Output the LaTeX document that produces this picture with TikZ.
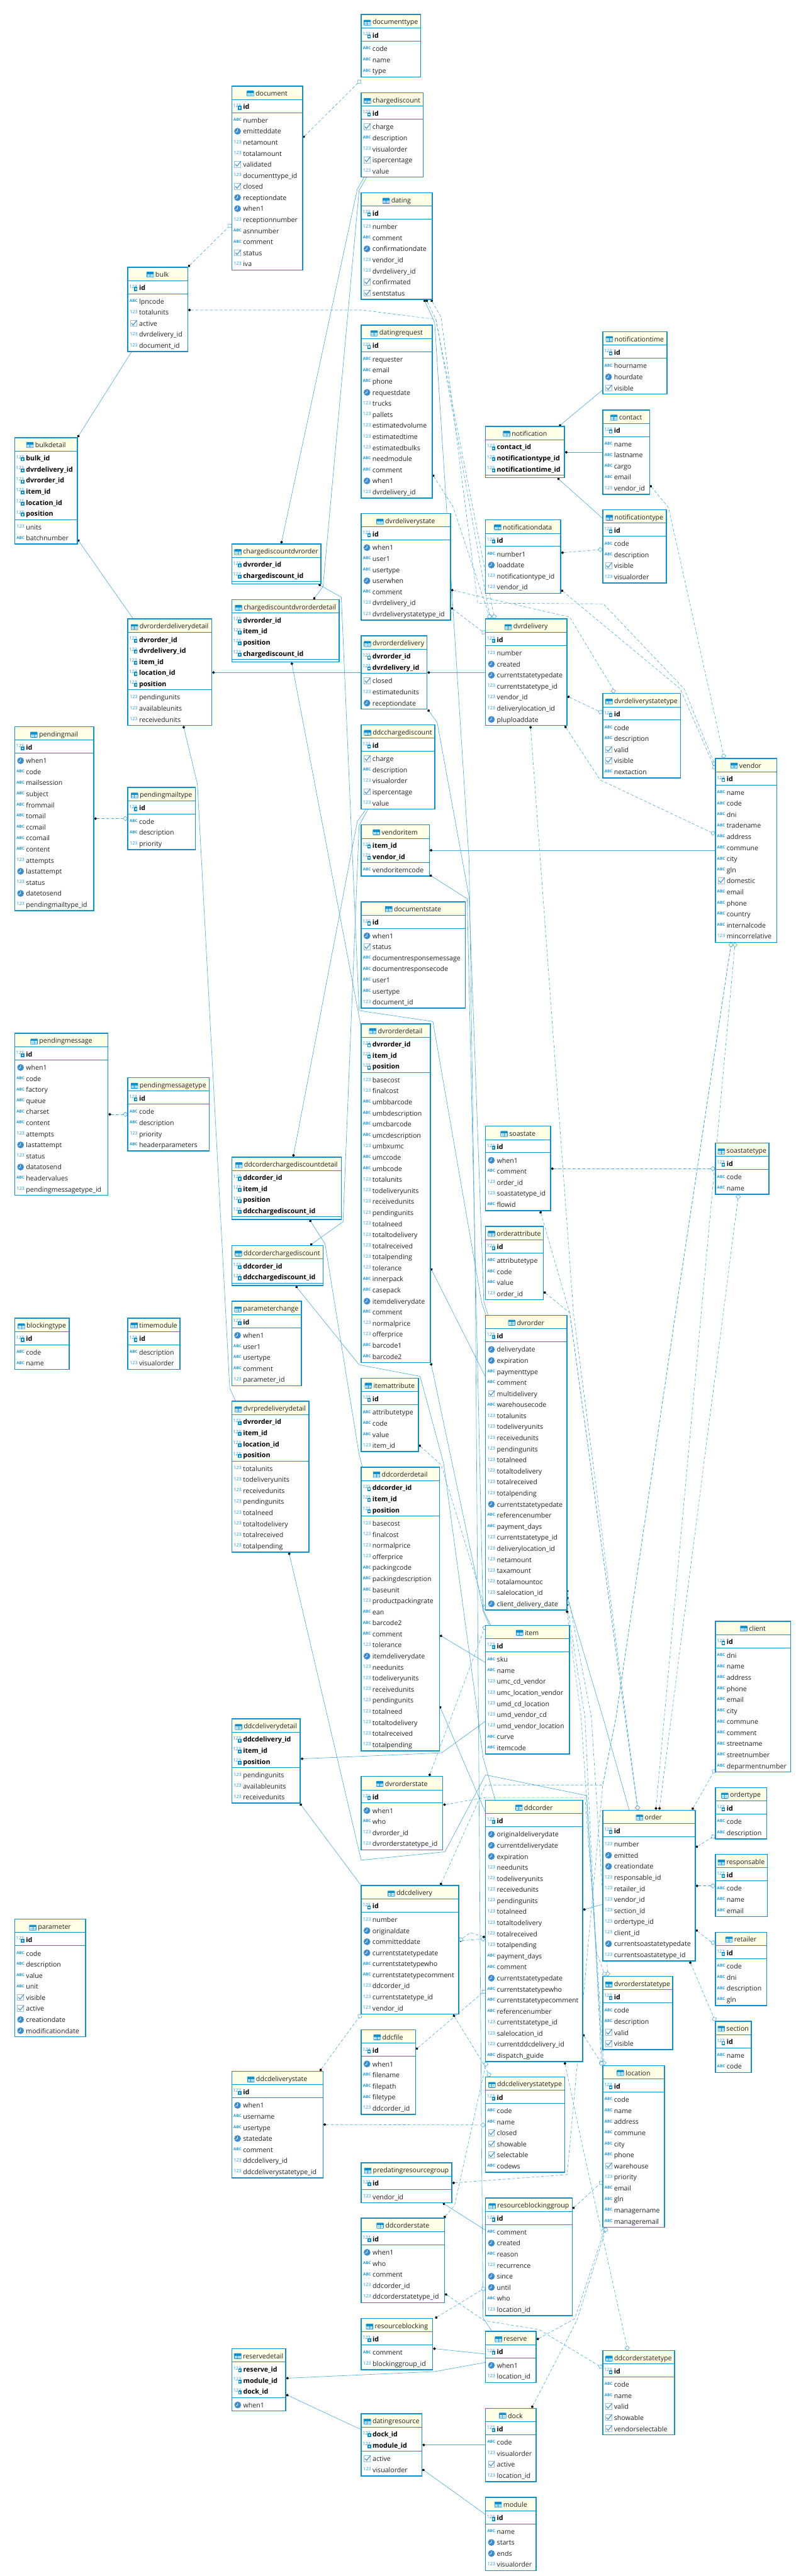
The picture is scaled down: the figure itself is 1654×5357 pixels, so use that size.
\documentclass[tikz,border=0pt]{standalone}
\usepackage{fontspec}
\usepackage{graphicx,tikz}
\usetikzlibrary{arrows.meta,backgrounds}
\setmainfont{Open Sans}
\catcode`\_=12
\definecolor{tblblue}{HTML}{0C90D0}
\definecolor{linkblue}{HTML}{45ABE0}
\definecolor{headfill}{HTML}{FFFFE6}
\definecolor{clockblue}{HTML}{3A8CD0}
\definecolor{numblue}{HTML}{1C9AE0}
\definecolor{textdark}{HTML}{202020}
\tikzset{
	tblbox/.style={draw=tblblue,fill=white,line width=2pt,inner sep=0pt,outer sep=0pt},
	thinrule/.style={draw=tblblue,line width=.8pt},
	tbltitle/.style={anchor=base,inner sep=0pt,font=\fontsize{13.9}{16}\selectfont,text=textdark},
	colname/.style={anchor=base west,inner sep=0pt,font=\fontsize{13.9}{16}\selectfont,text=textdark},
	pkname/.style={colname,font=\fontsize{13.9}{16}\selectfont\bfseries,text=black},
	numicon/.style={inner sep=0pt,text=numblue,font=\fontsize{9.5}{10}\selectfont},
	abcicon/.style={inner sep=0pt,text=numblue,font=\fontsize{8.2}{10}\selectfont\bfseries},
	linkline/.style={draw=linkblue,line width=.8pt},
	idlink/.style={linkline,arrows={Circle[color=black,fill=black,length=5.5pt,width=5.5pt]}-,shorten <=1pt},
	fklink/.style={linkline,dash pattern=on 6pt off 4pt,arrows={Circle[color=black,fill=black,length=5.5pt,width=5.5pt]}-{Diamond[length=10.5pt,width=10.5pt,fill=white]},shorten <=1pt},
	tblglyph/.pic={
		\draw[tblblue,line width=1pt,fill=white,rounded corners=1pt] (-7,-5.5) rectangle (7,5.5);
		\fill[tblblue] (-7,-5.5) rectangle (7,-1);
		\draw[tblblue,line width=1pt] (0,-5) -- (0,5);
		\fill[tblblue!35] (-6,-.5) rectangle (-.7,4.6) (.7,-.5) rectangle (6,4.6);
	}
}
\newcommand{\ica}[3]{\node[abcicon] (#1-i) at ({#2+12},{#3-6.5}) {ABC};}
\newcommand{\icn}[3]{\node[numicon] (#1-i) at ({#2+12},{#3-6.5}) {123};}
\newcommand{\icd}[3]{%
	\fill[clockblue] ({#2+12},{#3-5.5}) circle (7);
	\draw[white,line width=1pt] ({#2+12},{#3-10}) -- ({#2+12},{#3-5.5}) -- ({#2+8},{#3-3.5});
}
\newcommand{\icb}[3]{%
	\draw[clockblue!55,line width=1pt] ({#2+5.5},{#3-12}) rectangle ({#2+18.5},{#3+.5});
	\draw[clockblue,line width=1.4pt] ({#2+7.5},{#3-6}) -- ({#2+11},{#3-2}) -- ({#2+19},{#3-12});
}
% name, left, top, width, key columns, other columns
\newcommand{\ertable}[6]{%
	\def\tblcols{#6}%
	\def\npk{0}\def\ncol{0}%
	\foreach \nm [count=\rw] in {#5} {\xdef\npk{\rw}}%
	\ifx\tblcols\empty\else\foreach \ty/\nm [count=\rw] in {#6} {\xdef\ncol{\rw}}\fi
	\pgfmathsetmacro\hh{37.5+23*(\npk+\ncol)}%
	\node[tblbox,anchor=north west,minimum width=#4pt,minimum height=\hh pt] (#1) at (#2,#3) {};
	\fill[headfill] ({#2+1},{#3+1}) rectangle ({#2+#4-1},{#3+27.6});
	\draw[thinrule] (#2,{#3+27.6}) -- ({#2+#4},{#3+27.6});
	\draw[thinrule] (#2,{#3+32+23*\npk}) -- ({#2+#4},{#3+32+23*\npk});
	\node[tbltitle] (#1-t) at ({#2+#4/2+9},{#3+20.5}) {#1};
	\path (#1-t.west) ++(-10.6,0) pic {tblglyph};
	\foreach \nm [count=\rw] in {#5} {
		\pgfmathsetmacro\by{#3+48.2+23*(\rw-1)}
		\node[pkname] (#1-p\rw) at ({#2+23.3},\by) {\nm};
		\node[numicon] (#1-p\rw-i) at ({#2+11},{\by-8}) {123};
		\fill[tblblue] ({#2+13},{\by-7}) rectangle ({#2+20},{\by+1});
		\fill[white] ({#2+15},{\by-4.5}) rectangle ({#2+18},{\by-1.5});
	}
	\ifx\tblcols\empty\else
	\foreach \ty/\nm [count=\rw] in {#6} {
		\pgfmathsetmacro\by{#3+53.3+23*\npk+23*(\rw-1)}
		\node[colname] (#1-c\rw) at ({#2+23.3},\by) {\nm};
		\csname ic\ty\endcsname{#1-c\rw}{#2}{\by}
	}
	\fi
}
\begin{document}
\begin{tikzpicture}[x=1pt,y=-1pt]
	\useasboundingbox (0,0) rectangle (1654,5357);
	\ertable{documenttype}{750.7}{30.4}{123.6}{id}{a/code,a/name,a/type}
	\ertable{chargediscount}{750.7}{192.9}{128.9}{id}{b/charge,a/description,n/visualorder,b/ispercentage,n/value}
	\ertable{dating}{750.7}{400.7}{147.9}{id}{n/number,a/comment,d/confirmationdate,n/vendor_id,n/dvrdelivery_id,b/confirmated,b/sentstatus}
	\ertable{datingrequest}{750.7}{676.2}{147.9}{id}{a/requester,a/email,a/phone,d/requestdate,n/trucks,n/pallets,n/estimatedvolume,n/estimatedtime,n/estimatedbulks,a/needmodule,a/comment,d/when1,n/dvrdelivery_id}
	\ertable{document}{481.7}{179.1}{147.2}{id}{a/number,d/emitteddate,n/netamount,n/totalamount,b/validated,n/documenttype_id,b/closed,d/receptiondate,d/when1,n/receptionnumber,a/asnnumber,a/comment,b/status,n/iva}
	\ertable{bulk}{265.7}{555.7}{124.5}{id}{a/lpncode,n/totalunits,b/active,n/dvrdelivery_id,n/document_id}
	\ertable{bulkdetail}{30.7}{910.1}{130.2}{bulk_id,dvrdelivery_id,dvrorder_id,item_id,location_id,position}{n/units,a/batchnumber}
	\ertable{chargediscountdvrorder}{481.7}{1131.1}{185.3}{dvrorder_id,chargediscount_id}{}
	\ertable{chargediscountdvrorderdetail}{481.7}{1247}{223.4}{dvrorder_id,item_id,position,chargediscount_id}{}
	\ertable{dvrorderdeliverydetail}{265.7}{1287.2}{174.2}{dvrorder_id,dvrdelivery_id,item_id,location_id,position}{n/pendingunits,n/availableunits,n/receivedunits}
	\ertable{pendingmail}{30.7}{1511.1}{164.1}{id}{d/when1,a/code,a/mailsession,a/subject,a/frommail,a/tomail,a/ccmail,a/ccomail,a/content,n/attempts,d/lastattempt,n/status,d/datetosend,n/pendingmailtype_id}
	\ertable{pendingmailtype}{265.7}{1637.4}{140.3}{id}{a/code,a/description,n/priority}
	\ertable{dvrdeliverystate}{750.7}{1068}{185.5}{id}{d/when1,a/user1,a/usertype,d/userwhen,a/comment,n/dvrdelivery_id,n/dvrdeliverystatetype_id}
	\ertable{dvrorderdelivery}{750.7}{1322.3}{136.8}{dvrorder_id,dvrdelivery_id}{b/closed,n/estimatedunits,d/receptiondate}
	\ertable{ddcchargediscount}{750.7}{1507.1}{153.2}{id}{b/charge,a/description,n/visualorder,b/ispercentage,n/value}
	\ertable{vendoritem}{750.7}{1715.5}{141.6}{item_id,vendor_id}{a/vendoritemcode}
	\ertable{documentstate}{750.7}{1875.3}{216.3}{id}{d/when1,b/status,a/documentresponsemessage,a/documentresponsecode,a/user1,a/usertype,n/document_id}
	\ertable{dvrorderdetail}{750.7}{2129}{144.2}{dvrorder_id,item_id,position}{n/basecost,n/finalcost,a/umbbarcode,a/umbdescription,a/umcbarcode,a/umcdescription,n/umbxumc,a/umccode,a/umbcode,n/totalunits,n/todeliveryunits,n/receivedunits,n/pendingunits,n/totalneed,n/totaltodelivery,n/totalreceived,n/totalpending,n/tolerance,a/innerpack,a/casepack,d/itemdeliverydate,a/comment,n/normalprice,n/offerprice,a/barcode1,a/barcode2}
	\ertable{pendingmessage}{30.7}{2149.1}{193.8}{id}{d/when1,a/code,a/factory,a/queue,a/charset,a/content,n/attempts,d/lastattempt,n/status,d/datatosend,a/headervalues,n/pendingmessagetype_id}
	\ertable{pendingmessagetype}{265.7}{2241}{169.4}{id}{a/code,a/description,n/priority,a/headerparameters}
	\ertable{ddcorderchargediscountdetail}{481.7}{2406.3}{227.7}{ddcorder_id,item_id,position,ddcchargediscount_id}{}
	\ertable{ddcorderchargediscount}{481.7}{2590}{190.1}{ddcorder_id,ddcchargediscount_id}{}
	\ertable{parameterchange}{481.7}{2706.2}{144.5}{id}{d/when1,a/user1,a/usertype,a/comment,n/parameter_id}
	\ertable{blockingtype}{30.7}{2741.2}{113.3}{id}{a/code,a/name}
	\ertable{timemodule}{265.7}{2741.2}{108.6}{id}{a/description,n/visualorder}
	\ertable{dvrpredeliverydetail}{481.7}{2914}{160.4}{dvrorder_id,item_id,location_id,position}{n/totalunits,n/todeliveryunits,n/receivedunits,n/pendingunits,n/totalneed,n/totaltodelivery,n/totalreceived,n/totalpending}
	\ertable{itemattribute}{750.7}{2866.3}{118.8}{id}{a/attributetype,a/code,a/value,n/item_id}
	\ertable{ddcorderdetail}{750.7}{3051.2}{162.8}{ddcorder_id,item_id,position}{n/basecost,n/finalcost,n/normalprice,n/offerprice,a/packingcode,a/packingdescription,a/baseunit,n/productpackingrate,a/ean,a/barcode2,a/comment,n/tolerance,d/itemdeliverydate,n/needunits,n/todeliveryunits,n/receivedunits,n/pendingunits,n/totalneed,n/totaltodelivery,n/totalreceived,n/totalpending}
	\ertable{ddcdeliverydetail}{481.7}{3574.4}{142.4}{ddcdelivery_id,item_id,position}{n/pendingunits,n/availableunits,n/receivedunits}
	\ertable{parameter}{30.7}{3991.1}{147.2}{id}{a/code,a/description,a/value,a/unit,b/visible,b/active,d/creationdate,d/modificationdate}
	\ertable{dvrorderstate}{750.7}{3694.3}{169.6}{id}{d/when1,a/who,n/dvrorder_id,n/dvrorderstatetype_id}
	\ertable{ddcdelivery}{750.7}{3921.1}{203}{id}{n/number,d/originaldate,d/committeddate,d/currentstatetypedate,a/currentstatetypewho,a/currentstatetypecomment,n/ddcorder_id,n/currentstatetype_id,n/vendor_id}
	\ertable{ddcfile}{750.7}{4221.3}{113}{id}{d/when1,a/filename,a/filepath,a/filetype,n/ddcorder_id}
	\ertable{ddcdeliverystate}{481.7}{4307.4}{189.6}{id}{d/when1,a/username,a/usertype,d/statedate,a/comment,n/ddcdelivery_id,n/ddcdeliverystatetype_id}
	\ertable{notificationtime}{1252.8}{690}{133.4}{id}{a/hourname,d/hourdate,b/visible}
	\ertable{contact}{1252.8}{852.5}{97.4}{id}{a/name,a/lastname,a/cargo,a/email,n/vendor_id}
	\ertable{notification}{1009.3}{886.9}{164.1}{contact_id,notificationtype_id,notificationtime_id}{}
	\ertable{notificationtype}{1252.8}{1059.9}{132.3}{id}{a/code,a/description,b/visible,n/visualorder}
	\ertable{notificationdata}{1009.3}{1081.2}{156.1}{id}{a/number1,d/loaddate,n/notificationtype_id,n/vendor_id}
	\ertable{dvrdelivery}{1009.3}{1287.2}{168.9}{id}{n/number,d/created,d/currentstatetypedate,n/currentstatetype_id,n/vendor_id,n/deliverylocation_id,d/pluploaddate}
	\ertable{dvrdeliverystatetype}{1252.8}{1442.2}{161.5}{id}{a/code,a/description,b/valid,b/visible,a/nextaction}
	\ertable{vendor}{1486.8}{1577.1}{127.6}{id}{a/name,a/code,a/dni,a/tradename,a/address,a/commune,a/city,a/gln,b/domestic,a/email,a/phone,a/country,a/internalcode,n/mincorrelative}
	\ertable{soastate}{1009.3}{2342}{135}{id}{d/when1,a/comment,n/order_id,n/soastatetype_id,a/flowid}
	\ertable{soastatetype}{1486.8}{2377}{111.7}{id}{a/code,a/name}
	\ertable{orderattribute}{1009.3}{2550.4}{120.1}{id}{a/attributetype,a/code,a/value,n/order_id}
	\ertable{dvrorder}{1009.3}{2735.4}{168.9}{id}{d/deliverydate,d/expiration,a/paymenttype,a/comment,b/multidelivery,a/warehousecode,n/totalunits,n/todeliveryunits,n/receivedunits,n/pendingunits,n/totalneed,n/totaltodelivery,n/totalreceived,n/totalpending,d/currentstatetypedate,a/referencenumber,a/payment_days,n/currentstatetype_id,n/deliverylocation_id,n/netamount,n/taxamount,n/totalamountoc,n/salelocation_id,d/client_delivery_date}
	\ertable{item}{1009.3}{3380.1}{174.1}{id}{a/sku,a/name,n/umc_cd_vendor,n/umc_location_vendor,n/umd_cd_location,n/umd_vendor_cd,n/umd_vendor_location,a/curve,a/itemcode}
	\ertable{client}{1486.8}{3371.5}{156.7}{id}{a/dni,a/name,a/address,a/phone,a/email,a/city,a/commune,a/comment,a/streetname,a/streetnumber,a/deparmentnumber}
	\ertable{ddcorder}{1009.3}{3743.7}{201.7}{id}{d/originaldeliverydate,d/currentdeliverydate,d/expiration,n/needunits,n/todeliveryunits,n/receivedunits,n/pendingunits,n/totalneed,n/totaltodelivery,n/totalreceived,n/totalpending,a/payment_days,a/comment,d/currentstatetypedate,a/currentstatetypewho,a/currentstatetypecomment,a/referencenumber,n/currentstatetype_id,n/salelocation_id,n/currentddcdelivery_id,a/dispatch_guide}
	\ertable{order}{1252.8}{3764.4}{192.2}{id}{n/number,d/emitted,d/creationdate,n/responsable_id,n/retailer_id,n/vendor_id,n/section_id,n/ordertype_id,n/client_id,d/currentsoastatetypedate,n/currentsoastatetype_id}
	\ertable{ordertype}{1486.8}{3717.3}{106.9}{id}{a/code,a/description}
	\ertable{responsable}{1486.8}{3856.2}{108}{id}{a/code,a/name,a/email}
	\ertable{retailer}{1486.8}{4018.1}{106.9}{id}{a/code,a/dni,a/description,a/gln}
	\ertable{section}{1486.8}{4203.5}{74.6}{id}{a/name,a/code}
	\ertable{dvrorderstatetype}{1252.8}{4109.9}{145.6}{id}{a/code,a/description,b/valid,b/visible}
	\ertable{location}{1252.8}{4295.4}{128.6}{id}{a/code,a/name,a/address,a/commune,a/city,a/phone,b/warehouse,n/priority,a/email,a/gln,a/managername,a/manageremail}
	\ertable{ddcdeliverystatetype}{1009.3}{4318.9}{164.6}{id}{a/code,a/name,b/closed,b/showable,b/selectable,a/codews}
	\ertable{predatingresourcegroup}{751}{4497.4}{188}{id}{n/vendor_id}
	\ertable{ddcorderstate}{751}{4613.1}{173.1}{id}{d/when1,a/who,a/comment,n/ddcorder_id,n/ddcorderstatetype_id}
	\ertable{resourceblocking}{751}{4821.4}{148.3}{id}{a/comment,n/blockinggroup_id}
	\ertable{reservedetail}{482.1}{4884.4}{111.7}{reserve_id,module_id,dock_id}{d/when1}
	\ertable{datingresource}{751}{5019.2}{126}{dock_id,module_id}{b/active,n/visualorder}
	\ertable{resourceblockinggroup}{1009.3}{4570.9}{180}{id}{a/comment,d/created,a/reason,n/recurrence,d/since,d/until,a/who,n/location_id}
	\ertable{reserve}{1009.3}{4848}{105.3}{id}{d/when1,n/location_id}
	\ertable{dock}{1009.3}{5008.2}{105.3}{id}{a/code,n/visualorder,b/active,n/location_id}
	\ertable{module}{1009.3}{5193.3}{105.3}{id}{a/name,d/starts,d/ends,n/visualorder}
	\ertable{ddcorderstatetype}{1252.8}{4887.9}{149.3}{id}{a/code,a/name,b/valid,b/showable,b/vendorselectable}
	\begin{scope}[on background layer]
	\fill[white] (0,0) rectangle (1654,5357);
	% identifying relations
	\draw[idlink] (bulkdetail.north east) -- (273.7,0 |- bulk.south);
	\draw[idlink] (bulkdetail.east |- 0,1121) -- (277,0 |- dvrorderdeliverydetail.north);
	\draw[idlink] (dvrorderdeliverydetail.east |- 0,1398.6) -- (dvrorderdelivery.west |- 0,1398.6);
	\draw[idlink] (381,0 |- dvrorderdeliverydetail.south) -- (410.3,1630.5) -- (477.5,2887) -- (489.7,0 |- dvrpredeliverydetail.north);
	\draw[idlink] (600.3,0 |- dvrpredeliverydetail.south) -- (750.7,3868.3) -- (924.6,3851) -- (1009.3,3691) -- (1219.4,3734) -- (location.north west);
	\draw[idlink] (ddcdeliverydetail.east |- 0,3657.6) -- (830,3649) -- (918,3645) -- (item.west |- 0,3579);
	\draw[idlink] (623,0 |- ddcdeliverydetail.south) -- (ddcdelivery.north west);
	\draw[idlink] (ddcorderdetail.east |- 0,3400) -- (item.west |- 0,3457.6);
	\draw[idlink] (ddcorderdetail.east |- 0,3547) -- (ddcorder.west |- 0,3769.5);
	\draw[idlink] (dvrorderdetail.east |- 0,2636.5) -- (dvrorder.west |- 0,2864);
	\draw[idlink] (895.5,0 |- dvrorderdetail.south) -- (1004,3347) -- (1020,0 |- item.north);
	\draw[idlink] (643,0 |- ddcorderchargediscountdetail.south) -- (675.5,2586.5) -- (746.4,3024.8) -- (753.3,0 |- ddcorderdetail.north);
	\draw[idlink] (644,0 |- ddcorderchargediscount.north) -- (713,2540.6) -- (746.4,1716.6) -- (765,0 |- ddcchargediscount.south);
	\draw[idlink] (609.3,0 |- ddcorderchargediscountdetail.north) -- (742.7,1708) -- (760.7,0 |- ddcchargediscount.south);
	\draw[idlink] (614,0 |- ddcorderchargediscount.south) -- (746.4,2838) -- (873.2,2862.3) -- (922,3043) -- (993.4,3570) -- (1004,3654.7) -- (1029.4,0 |- ddcorder.north);
	\draw[idlink] (888.6,0 |- dvrorderdelivery.south) -- (908.7,1502.5) -- (975,1866) -- (1005.6,2707) -- (1014.6,0 |- dvrorder.north);
	\draw[idlink] (661.2,0 |- chargediscountdvrorder.south) -- (709.4,1242) -- (746.4,2101.5) -- (899.7,2124.4) -- (1001.3,2710) -- (1010.3,0 |- dvrorder.north);
	\draw[idlink] (651,0 |- chargediscountdvrorderdetail.north) -- (671.3,1220) -- (746.4,396) -- (762.3,0 |- chargediscount.south);
	\draw[idlink] (584.4,0 |- chargediscountdvrorder.north) -- (742.7,393) -- (757,0 |- chargediscount.south);
	\draw[idlink] (606,0 |- chargediscountdvrorderdetail.south) -- (dvrorderdetail.west |- 0,2137);
	\draw[idlink] (vendoritem.east |- 0,1819) -- (971,1869) -- (1004,3350) -- (1017,0 |- item.north);
	\draw[idlink] (vendoritem.east |- 0,1768.3) -- (vendor.west |- 0,1768.3);
	\draw[idlink] (881,0 |- dating.south) -- (903.4,670.4) -- (975,1790) -- (988,2680) -- (1001,4460) -- (1004,4820) -- (1022.5,0 |- reserve.north);
	\draw[idlink] (dvrorder.east |- 0,3319.3) -- (1252.8,3570) -- (1307.8,0 |- order.north);
	\draw[idlink] (ddcorder.east |- 0,3972) -- (order.west |- 0,3960);
	\draw[idlink] (dvrorderdelivery.east |- 0,1398.6) -- (dvrdelivery.west |- 0,1398.6);
	\draw[idlink] (1161.2,0 |- notification.north) -- (notificationtime.west |- 0,810.5);
	\draw[idlink] (notification.east |- 0,940.5) -- (contact.west |- 0,940.5);
	\draw[idlink] (1158,0 |- notification.south) -- (notificationtype.west |- 0,1078.3);
	\draw[idlink] (919.4,0 |- predatingresourcegroup.south) -- (resourceblockinggroup.west |- 0,4638);
	\draw[idlink] (resourceblocking.east |- 0,4883.8) -- (reserve.west |- 0,4895.4);
	\draw[idlink] (reservedetail.east |- 0,4945.7) -- (903.5,4931.8) -- (reserve.west |- 0,4912.7);
	\draw[idlink] (reservedetail.east |- 0,4979.3) -- (datingresource.west |- 0,5052.7);
	\draw[idlink] (datingresource.east |- 0,5084.5) -- (dock.west |- 0,5084.5);
	\draw[idlink] (datingresource.east |- 0,5134.3) -- (module.west |- 0,5229.2);
	% optional relations
	\draw[fklink] (document.east |- 0,287) -- (documenttype.west |- 0,166);
	\draw[fklink] (bulk.north east) -- (document.west |- 0,465.6);
	\draw[fklink] (bulk.east |- 0,644.7) -- (751.7,644.7) -- (906,664) -- (1019,0 |- dvrdelivery.north);
	\draw[fklink] (885.4,0 |- dating.south) -- (906,664) -- (1028,0 |- dvrdelivery.north);
	\draw[fklink] (datingrequest.east |- 0,985.9) -- (941.5,1053.6) -- (1019,0 |- dvrdelivery.north);
	\draw[fklink] (895.5,0 |- dating.south) -- (917,660) -- (993,1254.5) -- (1254,1255.7) -- (1422,1432.5) -- (vendor.west |- 0,1593);
	\draw[fklink] (notificationdata.east |- 0,1149.5) -- (notificationtype.west |- 0,1142.6);
	\draw[fklink] (notificationdata.east |- 0,1226) -- (1414,1432.5) -- (vendor.west |- 0,1600.7);
	\draw[fklink] (contact.east |- 0,1008.3) -- (1389.4,1055.3) -- (1505.3,0 |- vendor.north);
	\draw[fklink] (1173.4,0 |- dvrdelivery.south) -- (1247.5,1622) -- (vendor.west |- 0,1735);
	\draw[fklink] (dvrdeliverystate.east |- 0,1226.4) -- (1184,1283.2) -- (1274,1432.5) -- (1275.6,0 |- dvrdeliverystatetype.north);
	\draw[fklink] (dvrdeliverystate.east |- 0,1263) -- (dvrdelivery.west |- 0,1318.2);
	\draw[fklink] (dvrdelivery.east |- 0,1447.4) -- (dvrdeliverystatetype.west |- 0,1483);
	\draw[fklink] (pendingmail.east |- 0,1702.3) -- (pendingmailtype.west |- 0,1702.3);
	\draw[fklink] (pendingmessage.east |- 0,2317.3) -- (pendingmessagetype.west |- 0,2317.3);
	\draw[fklink] (soastate.east |- 0,2430.4) -- (soastatetype.west |- 0,2430.4);
	\draw[fklink] (1122.6,0 |- soastate.south) -- (1184,2730) -- (1325.8,0 |- order.north);
	\draw[fklink] (orderattribute.east |- 0,2685.5) -- (1184,2730) -- (1325.8,0 |- order.north);
	\draw[fklink] (1102.5,0 |- dvrdelivery.south) -- (1192,2730) -- (1325.8,0 |- order.north);
	\draw[fklink] (1363,0 |- order.north) -- (1528,0 |- vendor.south);
	\draw[fklink] (1370.3,0 |- order.north) -- (1535,0 |- soastatetype.south);
	\draw[fklink] (915,0 |- ddcdelivery.north) -- (1009.3,3712) -- (1252.8,3712) -- (1280.6,3570) -- (1411.6,2680) -- (1520,0 |- vendor.south);
	\draw[fklink] (predatingresourcegroup.east |- 0,4539.7) -- (1178.7,4522.3) -- (1252.8,3712) -- (1280.6,3570) -- (1411.6,2680) -- (1520,0 |- vendor.south);
	\draw[fklink] (dvrorder.east |- 0,3305) -- (1229,3570) -- (1263.4,0 |- dvrorderstatetype.north);
	\draw[fklink] (dvrorder.east |- 0,3334) -- (1215.7,3570) -- (1250,0 |- location.north);
	\draw[fklink] (dvrorder.east |- 0,3348) -- (1207.8,3570) -- (1255.4,0 |- location.north);
	\draw[fklink] (dvrorderstate.east |- 0,3753.5) -- (1009.3,3738) -- (1216,3738) -- (1240,4060) -- (1258,0 |- dvrorderstatetype.north);
	\draw[fklink] (891.8,0 |- dvrorderstate.north) -- (item.north west);
	\draw[fklink] (itemattribute.east |- 0,3004) -- (917,3046) -- (dvrorder.south west);
	\draw[fklink] (ddcdelivery.east |- 0,4036) -- (ddcorder.west |- 0,4032);
	\draw[fklink] (ddcorder.west |- 0,4029) -- (977.5,4019) -- (ddcdelivery.east |- 0,4036.5);
	\draw[fklink] (ddcfile.east |- 0,4262.6) -- (ddcorder.west |- 0,4138.6);
	\draw[fklink] (ddcorder.east |- 0,4229.3) -- (location.north west);
	\draw[fklink] (922,0 |- ddcorderstate.north) -- (944.8,4586) -- (1011,0 |- ddcorder.south);
	\draw[fklink] (ddcdeliverystate.east |- 0,4418.2) -- (ddcdeliverystatetype.west |- 0,4419);
	\draw[fklink] (664.4,0 |- ddcdeliverystate.north) -- (ddcdelivery.south west);
	\draw[fklink] (941.5,0 |- ddcdelivery.south) -- (1001.3,4286) -- (1018.8,0 |- ddcdeliverystatetype.north);
	\draw[fklink] (1173.4,0 |- ddcorder.south) -- (1207.8,4450) -- (1304.7,0 |- ddcorderstatetype.north);
	\draw[fklink] (ddcorderstate.east |- 0,4769.3) -- (1006.6,4826) -- (1120.4,4844.5) -- (ddcorderstatetype.west |- 0,4924.3);
	\draw[fklink] (order.east |- 0,3842.4) -- (ordertype.west |- 0,3816.6);
	\draw[fklink] (order.east |- 0,3921.7) -- (responsable.west |- 0,3921.7);
	\draw[fklink] (order.east |- 0,4012.4) -- (1477.8,4038) -- (retailer.west |- 0,4042);
	\draw[fklink] (1433.3,0 |- order.south) -- (section.north west);
	\draw[fklink] (1438,0 |- order.north) -- (client.west |- 0,3678.8);
	\draw[fklink] (resourceblockinggroup.east |- 0,4594) -- (location.west |- 0,4535.6);
	\draw[fklink] (903.5,0 |- resourceblocking.north) -- (resourceblockinggroup.west |- 0,4757);
	\draw[fklink] (reserve.east |- 0,4865.9) -- (1194.6,4821.9) -- (1258,0 |- location.south);
	\draw[fklink] (1104.6,0 |- dock.north) -- (1198.8,4826) -- (1260.7,0 |- location.south);
	\end{scope}
\end{tikzpicture}
\end{document}
